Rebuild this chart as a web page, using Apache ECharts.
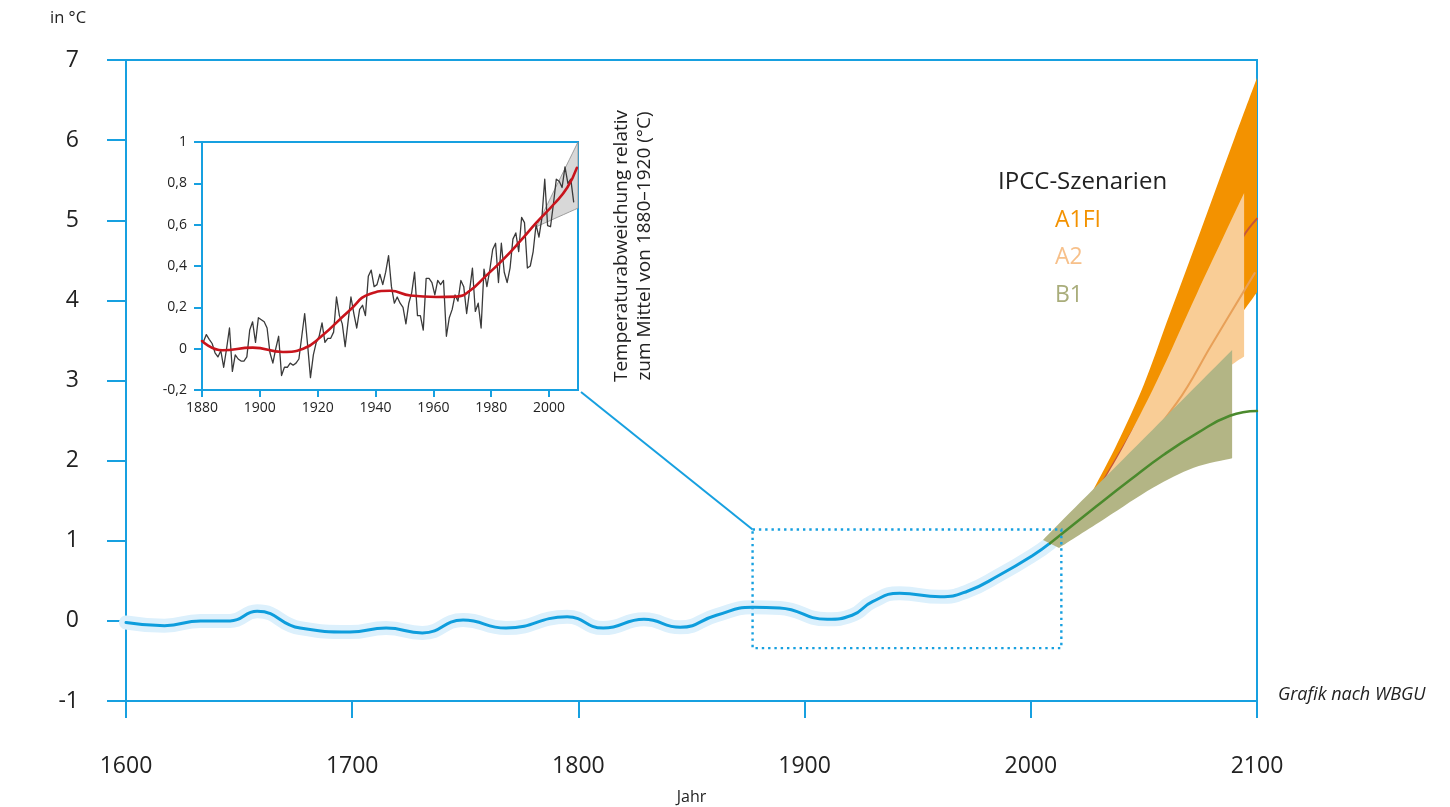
<!DOCTYPE html>
<html><head><meta charset="utf-8">
<script src="https://cdn.jsdelivr.net/npm/echarts@6/dist/echarts.min.js"></script>
<style>html,body{margin:0;padding:0;background:#fff}#c{width:1450px;height:807px}</style>
</head><body><div id="c"></div>
<script>
// ---------------- DATA ----------------
// main chart (1600–2100)
const histYears = [1600,1617,1633,1646,1658,1677,1699,1715,1731,1749,1768,1795,1811,1829,1845,1861,1877,1889,1910,1921,1930,1942,1960,1972,1986,2001,2008.5];
const histVals  = [-0.02,-0.06,0.00,0.00,0.12,-0.09,-0.14,-0.09,-0.15,0.01,-0.09,0.05,-0.09,0.02,-0.08,0.07,0.17,0.16,0.02,0.07,0.24,0.345,0.30,0.37,0.57,0.82,0.97];

// IPCC scenarios
const a1fiUpperYears = [2027,2038,2050,2060,2070,2080,2090,2100];
const a1fiUpperVals  = [1.60,2.20,2.95,3.72,4.48,5.25,6.02,6.78];
const a1fiLowerYears = [2027,2060,2090,2094.3,2100];
const a1fiLowerVals  = [1.55,2.80,3.75,3.88,4.10];
const a1fiMidYears = [2030,2060,2094,2100];
const a1fiMidVals  = [1.65,3.10,4.80,5.02];

const a2UpperYears = [2028,2041,2056,2073.5,2094.3];
const a2UpperVals  = [1.55,2.18,3.01,4.09,5.34];
const a2LowerYears = [2028,2060,2085,2094.3];
const a2LowerVals  = [1.50,2.40,3.10,3.30];
const a2MidYears = [2030,2064.5,2080,2099];
const a2MidVals  = [1.50,2.72,3.45,4.34];

const b1UpperYears = [2005.4,2089];
const b1UpperVals  = [1.01,3.38];
const b1LowerYears = [2012.5,2033,2054,2072,2089];
const b1LowerVals  = [0.91,1.28,1.66,1.91,2.03];
const b1MidYears = [2008.5,2029,2044,2058.6,2073.4,2088,2100];
const b1MidVals  = [0.97,1.43,1.76,2.07,2.34,2.56,2.62];

// zoom box drawn in main chart
const zoomBoxYears = [1877,2013.5];
const zoomBoxVals  = [-0.34,1.14];

// inset (1880–2010): annual values, plotted at mid-year
const instStartYear = 1880;
const instVals = [
  0.033,0.068,0.045,0.025,-0.02,-0.04,-0.01,-0.09,0.00,0.10,
  -0.11,-0.03,-0.05,-0.06,-0.06,-0.04,0.09,0.13,0.03,0.15,
  0.14,0.13,0.10,-0.02,-0.07,0.00,0.06,-0.13,-0.09,-0.09,
  -0.07,-0.08,-0.07,-0.05,0.06,0.17,0.02,-0.14,-0.03,0.03,
  0.06,0.125,0.03,0.05,0.05,0.08,0.25,0.16,0.12,0.01,
  0.13,0.25,0.17,0.10,0.19,0.21,0.16,0.35,0.38,0.30,
  0.31,0.36,0.31,0.37,0.45,0.30,0.22,0.25,0.22,0.20,
  0.12,0.22,0.27,0.37,0.16,0.16,0.09,0.34,0.34,0.32,
  0.26,0.33,0.31,0.33,0.06,0.15,0.19,0.26,0.23,0.33,
  0.30,0.17,0.28,0.39,0.18,0.22,0.10,0.385,0.30,0.38,
  0.48,0.51,0.32,0.51,0.37,0.32,0.39,0.53,0.56,0.47,
  0.635,0.61,0.39,0.40,0.47,0.60,0.54,0.63,0.82,0.595,
  0.59,0.70,0.82,0.81,0.78,0.88,0.80,0.82,0.71
];
const instSmoothYears = [1880,1887,1897.5,1908,1915,1921,1931,1938,1945,1952,1961,1968,1972.6,1978,1984,1990,1995.6,2001.7,2006.3,2009.6];
const instSmoothVals  = [0.037,-0.008,0.005,-0.016,0.0,0.056,0.185,0.265,0.28,0.257,0.25,0.252,0.28,0.35,0.43,0.52,0.61,0.70,0.78,0.875];
const triYears = [1995.6,2010];
const triUpper = [0.59,1.0];
const triLower = [0.59,0.68];

// ---------------- CHART ----------------
const BLUE = '#17a0e0';
const FONT = "'Open Sans', sans-serif";
const TXT = '#222';
const pairs = (xs, ys) => xs.map((x, i) => [x, ys[i]]);

function smoothPath(pts, move) {
  let d = (move ? 'M' : 'L') + pts[0][0] + ',' + pts[0][1];
  for (let i = 0; i < pts.length - 1; i++) {
    const p0 = pts[i - 1] || pts[i], p1 = pts[i], p2 = pts[i + 1], p3 = pts[i + 2] || pts[i + 1];
    const c1 = [p1[0] + (p2[0] - p0[0]) / 6, p1[1] + (p2[1] - p0[1]) / 6];
    const c2 = [p2[0] - (p3[0] - p1[0]) / 6, p2[1] - (p3[1] - p1[1]) / 6];
    d += ' C' + c1[0] + ',' + c1[1] + ' ' + c2[0] + ',' + c2[1] + ' ' + p2[0] + ',' + p2[1];
  }
  return d;
}
function bandSeries(upper, lower, color, z, idx, stroke) {
  return {
    type: 'custom', coordinateSystem: 'cartesian2d', xAxisIndex: idx, yAxisIndex: idx,
    data: [upper[0]], z: z, silent: true,
    renderItem: function (params, api) {
      const up = upper.map(p => api.coord(p));
      const lo = lower.slice().reverse().map(p => api.coord(p));
      return {
        type: 'path',
        shape: { pathData: smoothPath(up, true) + ' ' + smoothPath(lo, false) + ' Z' },
        style: { fill: color, stroke: stroke || null, lineWidth: stroke ? 0.8 : 0 }
      };
    }
  };
}
function lineSeries(data, color, width, z, idx, smooth) {
  return {
    type: 'line', xAxisIndex: idx, yAxisIndex: idx, data: data, z: z, silent: true,
    showSymbol: false, symbol: 'none', smooth: smooth,
    lineStyle: { color: color, width: width, cap: 'round', join: 'round' }
  };
}

const instData = instVals.map((v, i) => [instStartYear + i + 0.5, v]);

const chart = echarts.init(document.getElementById('c'));
const option = {
  animation: false,
  backgroundColor: '#fff',
  textStyle: { fontFamily: FONT },
  grid: [
    { left: 126, top: 60, width: 1131, height: 641, show: true, borderColor: BLUE, borderWidth: 2,
      containLabel: false, outerBoundsMode: 'none' },
    { left: 202, top: 142, width: 376, height: 248, show: true, borderColor: BLUE, borderWidth: 2, backgroundColor: '#fff',
      containLabel: false, outerBoundsMode: 'none' }
  ],
  xAxis: [
    { type: 'value', gridIndex: 0, min: 1600, max: 2100, interval: 100,
      axisLine: { show: true, onZero: false, lineStyle: { color: BLUE, width: 2 } },
      axisTick: { show: true, length: 17, lineStyle: { color: BLUE, width: 2 } },
      axisLabel: { fontSize: 23, color: TXT, margin: 54, fontFamily: FONT, formatter: v => String(v) },
      splitLine: { show: false },
      name: 'Jahr', nameLocation: 'middle', nameGap: 88,
      nameTextStyle: { fontSize: 16, color: TXT, fontFamily: FONT } },
    { type: 'value', gridIndex: 1, min: 1880, max: 2010, interval: 20,
      axisLine: { show: true, onZero: false, lineStyle: { color: BLUE, width: 2 } },
      axisTick: { show: true, length: 7, lineStyle: { color: BLUE, width: 2 } },
      axisLabel: { fontSize: 14, color: TXT, margin: 11, fontFamily: FONT, showMaxLabel: false, formatter: v => String(v) },
      splitLine: { show: false } }
  ],
  yAxis: [
    { type: 'value', gridIndex: 0, min: -1, max: 7, interval: 1,
      axisLine: { show: true, onZero: false, lineStyle: { color: BLUE, width: 2 } },
      axisTick: { show: true, length: 19, lineStyle: { color: BLUE, width: 2 } },
      axisLabel: { fontSize: 23, color: TXT, margin: 47, fontFamily: FONT },
      splitLine: { show: false } },
    { type: 'value', gridIndex: 1, min: -0.2, max: 1, interval: 0.2,
      axisLine: { show: true, onZero: false, lineStyle: { color: BLUE, width: 2 } },
      axisTick: { show: true, length: 8, lineStyle: { color: BLUE, width: 2 } },
      axisLabel: { fontSize: 14, color: TXT, margin: 15, fontFamily: FONT,
        formatter: v => String(Math.round(v * 10) / 10).replace('.', ',') },
      splitLine: { show: false } }
  ],
  series: [
    lineSeries(pairs(histYears, histVals), '#dcf0fc', 14, 1, 0, 0.5),
    lineSeries(pairs(histYears, histVals), '#0e9ddc', 3, 2, 0, 0.5),
    bandSeries(pairs(a1fiUpperYears, a1fiUpperVals), pairs(a1fiLowerYears, a1fiLowerVals), '#f39200', 3, 0),
    lineSeries(pairs(a1fiMidYears, a1fiMidVals), '#c65638', 2, 4, 0, 0.4),
    bandSeries(pairs(a2UpperYears, a2UpperVals), pairs(a2LowerYears, a2LowerVals), '#f9cd96', 5, 0),
    lineSeries(pairs(a2MidYears, a2MidVals), '#e8a058', 2, 6, 0, 0.4),
    bandSeries(pairs(b1UpperYears, b1UpperVals), pairs(b1LowerYears, b1LowerVals), '#b3b585', 7, 0),
    lineSeries(pairs(b1MidYears, b1MidVals), '#4b8a2d', 2.5, 8, 0, 0.5),
    {
      type: 'custom', coordinateSystem: 'cartesian2d', xAxisIndex: 0, yAxisIndex: 0,
      data: [[zoomBoxYears[0], zoomBoxVals[1]]], z: 9, silent: true, clip: false,
      renderItem: function (params, api) {
        const a = api.coord([zoomBoxYears[0], zoomBoxVals[1]]);
        const b = api.coord([zoomBoxYears[1], zoomBoxVals[0]]);
        return { type: 'rect', shape: { x: a[0], y: a[1], width: b[0] - a[0], height: b[1] - a[1] },
          style: { fill: null, stroke: BLUE, lineWidth: 2.4, lineDash: [2.4, 3.9] } };
      }
    },
    bandSeries(pairs(triYears, triUpper), pairs(triYears, triLower), '#d8d8d8', 10, 1, '#8c8c8c'),
    lineSeries(instData, '#3a3a3a', 1.3, 11, 1, false),
    lineSeries(pairs(instSmoothYears, instSmoothVals), '#c8141c', 2.6, 12, 1, 0.5)
  ],
  graphic: { elements: [
    { type: 'text', x: 50, y: 18, style: { text: 'in °C', fontSize: 16.5, fontFamily: FONT, fill: TXT, verticalAlign: 'middle' } },
    { type: 'text', x: 633, y: 246, rotation: Math.PI / 2,
      style: { text: 'Temperaturabweichung relativ\nzum Mittel von 1880–1920 (°C)', fontSize: 19, lineHeight: 23,
        fontFamily: FONT, fill: TXT, align: 'center', verticalAlign: 'middle' } },
    { type: 'text', x: 998, y: 182, style: { text: 'IPCC-Szenarien', fontSize: 24, fontFamily: FONT, fill: TXT, verticalAlign: 'middle' } },
    { type: 'text', x: 1055, y: 220, style: { text: 'A1FI', fontSize: 23, fontFamily: FONT, fill: '#f39200', verticalAlign: 'middle' } },
    { type: 'text', x: 1055, y: 257, style: { text: 'A2', fontSize: 23, fontFamily: FONT, fill: '#f7c08a', verticalAlign: 'middle' } },
    { type: 'text', x: 1055, y: 295, style: { text: 'B1', fontSize: 23, fontFamily: FONT, fill: '#a9ad7b', verticalAlign: 'middle' } },
    { type: 'text', x: 1278, y: 695, style: { text: 'Grafik nach WBGU', fontSize: 18, fontStyle: 'italic', fontFamily: FONT, fill: TXT, verticalAlign: 'middle' } }
  ] }
};
chart.setOption(option);

// connector from inset corner to zoom box
const p1 = chart.convertToPixel({ xAxisIndex: 1, yAxisIndex: 1 }, [2010, -0.2]);
const p2 = chart.convertToPixel({ xAxisIndex: 0, yAxisIndex: 0 }, [zoomBoxYears[0], zoomBoxVals[1]]);
chart.setOption({ graphic: { elements: [
  { id: 'connector', type: 'line', shape: { x1: p1[0] + 3, y1: p1[1] + 2, x2: p2[0], y2: p2[1] },
    style: { stroke: BLUE, lineWidth: 2 }, z: 5 }
] } });
</script></body></html>
